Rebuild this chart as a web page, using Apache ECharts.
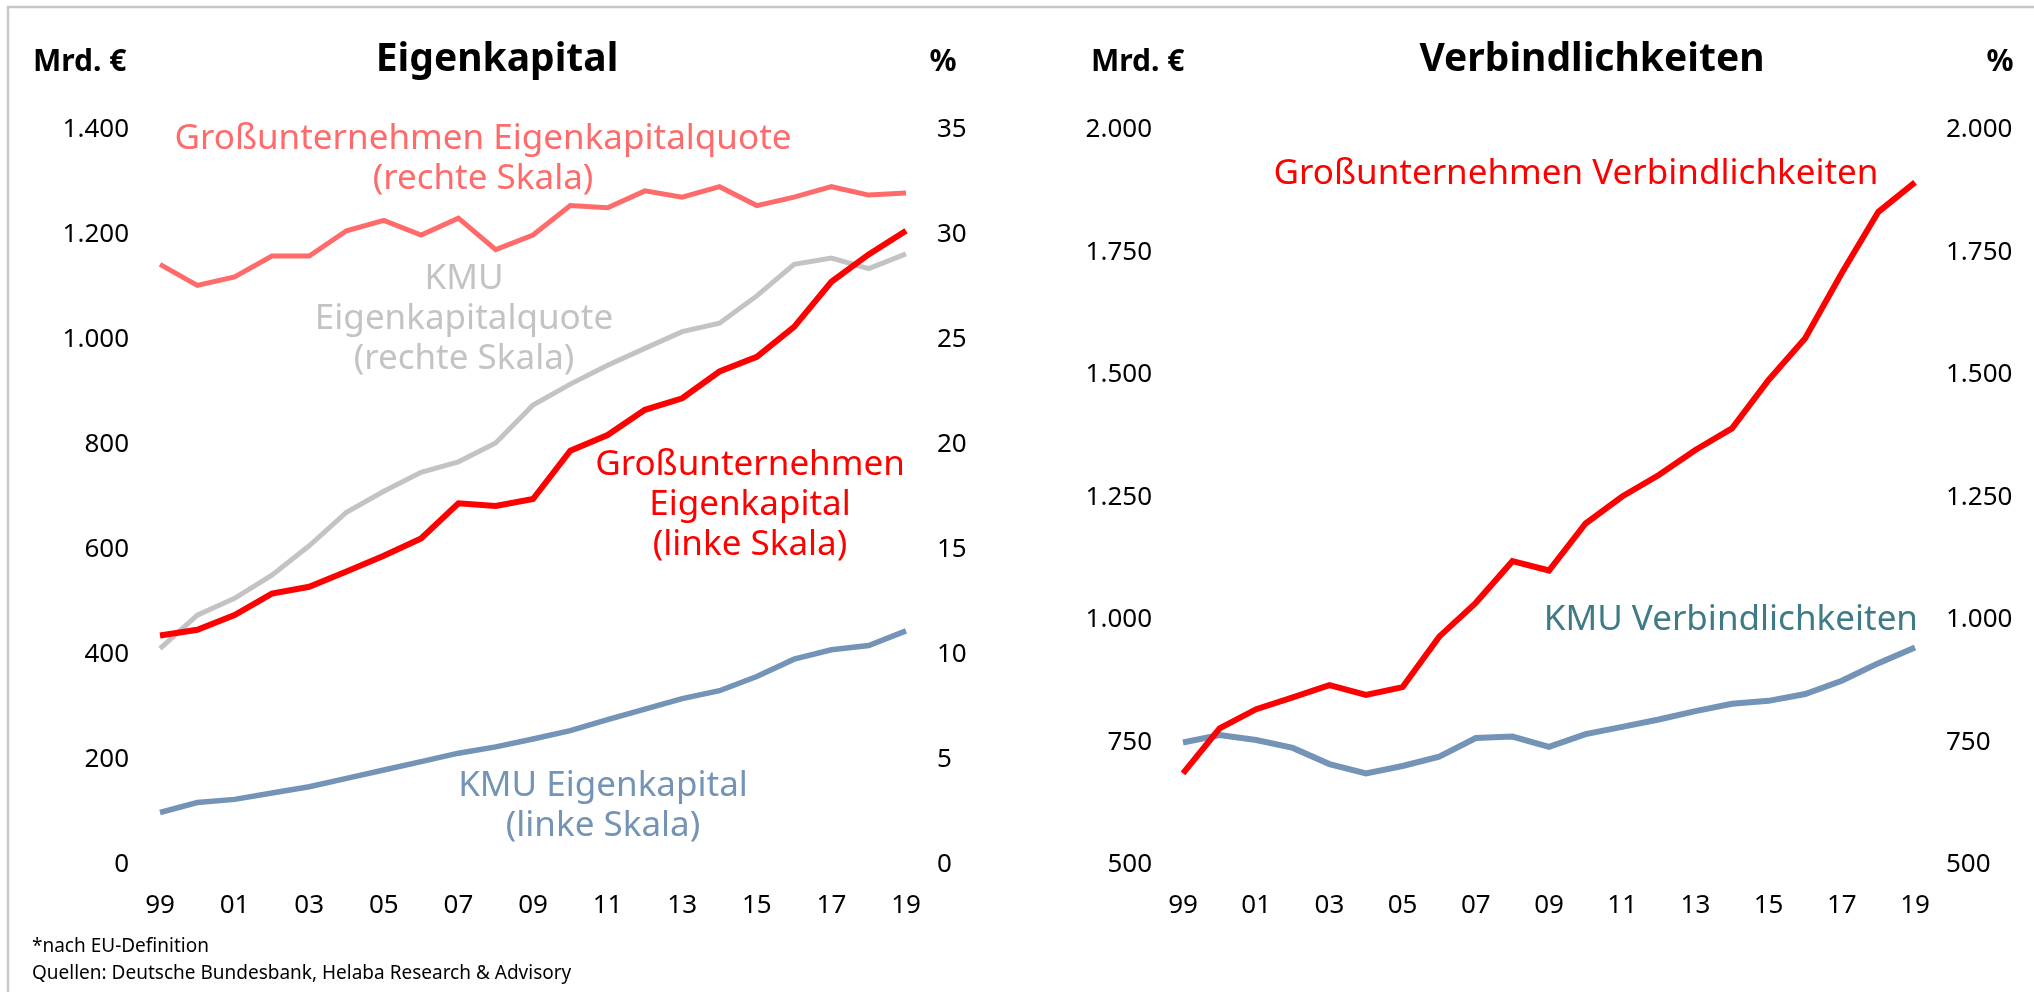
<!DOCTYPE html>
<html>
<head>
<meta charset="utf-8">
<script src="https://cdn.jsdelivr.net/npm/echarts@6/dist/echarts.min.js"></script>
<style>
  html, body { margin: 0; padding: 0; background: #fff; }
  #chart { width: 2034px; height: 992px; }
</style>
</head>
<body>
<div id="chart"></div>
<script>
// Jahre 1999 - 2019
var years = ['99','00','01','02','03','04','05','06','07','08','09','10','11','12','13','14','15','16','17','18','19'];

// Eigenkapital, Mrd. EUR (linke Skala)
var guEigenkapital  = [437, 448, 476, 517, 530, 559, 589, 622, 689, 684, 697, 789, 819, 867, 889, 940, 968, 1025, 1111, 1163, 1208];
var kmuEigenkapital = [100, 119, 125, 137, 149, 165, 181, 197, 213, 225, 240, 256, 277, 297, 317, 332, 359, 392, 410, 418, 446];
// Eigenkapitalquote, % (rechte Skala)
var guQuote  = [28.6, 27.6, 28.0, 29.0, 29.0, 30.2, 30.7, 30.0, 30.8, 29.3, 30.0, 31.4, 31.3, 32.1, 31.8, 32.3, 31.4, 31.8, 32.3, 31.9, 32.0];
var kmuQuote = [10.3, 11.9, 12.7, 13.8, 15.2, 16.8, 17.8, 18.7, 19.2, 20.1, 21.9, 22.9, 23.8, 24.6, 25.4, 25.8, 27.1, 28.6, 28.9, 28.4, 29.1];
// Verbindlichkeiten, Mrd. EUR
var guVerbindl  = [687, 779, 818, 842, 867, 847, 863, 966, 1035, 1120, 1101, 1197, 1252, 1296, 1347, 1391, 1490, 1575, 1708, 1833, 1893];
var kmuVerbindl = [750, 765, 755, 739, 706, 687, 702, 721, 759, 762, 741, 767, 782, 797, 814, 829, 835, 849, 876, 912, 944];

var FONT = '"Noto Sans", "DejaVu Sans", sans-serif';

function fmt(v) {
  return String(v).replace(/\B(?=(\d{3})+(?!\d))/g, '.');
}

function yAx(grid, pos, min, max, step, fn) {
  return {
    type: 'value', gridIndex: grid, position: pos,
    min: min, max: max, interval: step,
    axisLine: { show: false }, axisTick: { show: false }, splitLine: { show: false },
    axisLabel: { color: '#000', fontSize: 26, fontFamily: FONT, margin: 31, formatter: fn }
  };
}

function xAx(grid) {
  return {
    type: 'category', gridIndex: grid, data: years, boundaryGap: false,
    axisLine: { show: false }, axisTick: { show: false }, splitLine: { show: false },
    axisLabel: { color: '#000', fontSize: 26, fontFamily: FONT, margin: 28, interval: 1 }
  };
}

function line(name, data, x, y, color, w) {
  return {
    name: name, type: 'line', data: data, xAxisIndex: x, yAxisIndex: y,
    symbol: 'none', lineStyle: { color: color, width: w, join: 'miter' }
  };
}

function label(text, x, y, color, size, weight, align) {
  return {
    type: 'text', x: x, y: y,
    style: {
      text: text, fill: color, fontSize: size, fontWeight: weight || 'normal',
      fontFamily: FONT, align: align || 'center', verticalAlign: 'middle', lineHeight: 40
    }
  };
}

var chart = echarts.init(document.getElementById('chart'));
chart.setOption({
  backgroundColor: '#fff',
  animation: false,
  grid: [
    { left: 160, top: 130, width: 746, height: 735 },
    { left: 1183, top: 130, width: 732, height: 735 }
  ],
  xAxis: [xAx(0), xAx(1)],
  yAxis: [
    yAx(0, 'left', 0, 1400, 200, fmt),
    yAx(0, 'right', 0, 35, 5, fmt),
    yAx(1, 'left', 500, 2000, 250, fmt),
    yAx(1, 'right', 500, 2000, 250, fmt)
  ],
  series: [
    line('Großunternehmen Eigenkapitalquote', guQuote, 0, 1, '#FF6B6B', 5),
    line('KMU Eigenkapitalquote', kmuQuote, 0, 1, '#C3C3C3', 5),
    line('KMU Eigenkapital', kmuEigenkapital, 0, 0, '#7394B6', 5.5),
    line('Großunternehmen Eigenkapital', guEigenkapital, 0, 0, '#FF0000', 6),
    line('KMU Verbindlichkeiten', kmuVerbindl, 1, 2, '#7394B6', 6),
    line('Großunternehmen Verbindlichkeiten', guVerbindl, 1, 2, '#FF0000', 6)
  ],
  graphic: [
    // Rahmen
    { type: 'rect', shape: { x: 8, y: 7, width: 2040, height: 1000 },
      style: { fill: 'none', stroke: '#C8C8C8', lineWidth: 2.5 }, silent: true },
    // Titel und Einheiten
    label('Eigenkapital', 497, 60, '#000', 39, 'bold'),
    label('Mrd. €', 33, 62, '#000', 30, 'bold', 'left'),
    label('%', 943, 62, '#000', 30, 'bold'),
    label('Verbindlichkeiten', 1592, 60, '#000', 39, 'bold'),
    label('Mrd. €', 1091, 62, '#000', 30, 'bold', 'left'),
    label('%', 2000, 62, '#000', 30, 'bold'),
    // Beschriftungen an den Linien
    label('Großunternehmen Eigenkapitalquote\n(rechte Skala)', 483, 159, '#FF6B6B', 35),
    label('KMU\nEigenkapitalquote\n(rechte Skala)', 464, 319, '#C3C3C3', 35),
    label('Großunternehmen\nEigenkapital\n(linke Skala)', 750, 505, '#FF0000', 35),
    label('KMU Eigenkapital\n(linke Skala)', 603, 806, '#7394B6', 35),
    label('Großunternehmen Verbindlichkeiten', 1576, 174, '#FF0000', 35),
    label('KMU Verbindlichkeiten', 1918, 620, '#3F7B86', 35, 'normal', 'right'),
    // Fußnoten
    label('*nach EU-Definition', 32, 947, '#000', 19, 'normal', 'left'),
    label('Quellen: Deutsche Bundesbank, Helaba Research & Advisory', 32, 974, '#000', 19, 'normal', 'left')
  ]
});
</script>
</body>
</html>
